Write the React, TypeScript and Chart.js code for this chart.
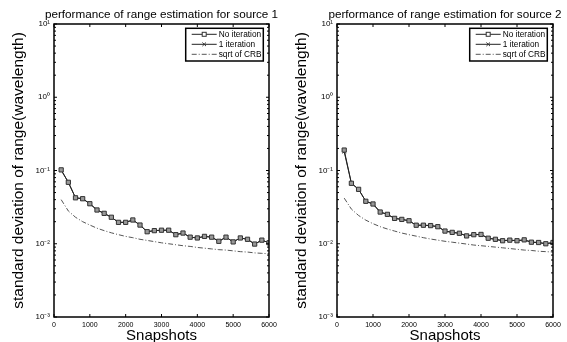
import React, { useEffect, useRef } from 'react';
import { Chart, registerables } from 'chart.js';

Chart.register(...registerables);

const FONT = '"Liberation Sans", Arial, Helvetica, sans-serif';

const snapshots = [200, 400, 600, 800, 1000, 1200, 1400, 1600, 1800, 2000, 2200, 2400, 2600, 2800, 3000, 3200, 3400, 3600, 3800, 4000, 4200, 4400, 4600, 4800, 5000, 5200, 5400, 5600, 5800, 6000];

const noIter1 = [0.102, 0.069, 0.0424, 0.0412, 0.0352, 0.0289, 0.026, 0.023, 0.0196, 0.0196, 0.0211, 0.018, 0.0146, 0.0151, 0.0153, 0.0153, 0.0133, 0.014, 0.0123, 0.012, 0.0126, 0.0123, 0.0108, 0.0123, 0.0106, 0.012, 0.0115, 0.0099, 0.0112, 0.0103];
const oneIter1 = [0.101, 0.069, 0.0424, 0.0412, 0.0352, 0.0289, 0.026, 0.023, 0.0196, 0.0196, 0.0211, 0.018, 0.0146, 0.0151, 0.0153, 0.0153, 0.0133, 0.014, 0.0123, 0.012, 0.0126, 0.0123, 0.0108, 0.0123, 0.0106, 0.012, 0.0115, 0.0099, 0.0112, 0.0103];
const crb1 = [0.040, 0.028, 0.023, 0.020, 0.018, 0.0163, 0.0151, 0.0141, 0.0133, 0.0126, 0.0121, 0.0115, 0.0111, 0.0107, 0.0103, 0.0100, 0.0097, 0.0094, 0.0092, 0.0089, 0.0087, 0.0085, 0.0083, 0.0082, 0.0080, 0.0078, 0.0077, 0.0075, 0.0074, 0.0073];

const noIter2 = [0.19, 0.0669, 0.0553, 0.038, 0.0349, 0.0271, 0.0252, 0.0222, 0.0215, 0.0206, 0.0179, 0.0179, 0.0177, 0.0171, 0.0149, 0.0143, 0.0139, 0.0128, 0.0133, 0.0134, 0.0119, 0.0115, 0.011, 0.0112, 0.011, 0.0113, 0.0105, 0.0104, 0.01, 0.0104];
const oneIter2 = [0.18, 0.0669, 0.0553, 0.038, 0.0349, 0.0271, 0.0252, 0.0222, 0.0215, 0.0206, 0.0179, 0.0179, 0.0177, 0.0171, 0.0149, 0.0143, 0.0139, 0.0128, 0.0133, 0.0134, 0.0119, 0.0115, 0.011, 0.0112, 0.011, 0.0113, 0.0105, 0.0104, 0.01, 0.0104];
const crb2 = [0.042, 0.0297, 0.0243, 0.021, 0.0188, 0.0171, 0.0159, 0.0149, 0.014, 0.0133, 0.0127, 0.0121, 0.0116, 0.0112, 0.0108, 0.0105, 0.0102, 0.0099, 0.0096, 0.0094, 0.0092, 0.0090, 0.0088, 0.0086, 0.0084, 0.0082, 0.0081, 0.0079, 0.0078, 0.0077];

const xTicks = [0, 1000, 2000, 3000, 4000, 5000, 6000];
const yTicks = [0.001, 0.01, 0.1, 1, 10];
const yTickLabels = ['10⁻³', '10⁻²', '10⁻¹', '10⁰', '10¹'];
const titles = ['performance of range estimation for source 1', 'performance of range estimation for source 2'];
const seriesLabels = ['No iteration', '1 iteration', 'sqrt of CRB'];
const xTitle = 'Snapshots';
const yTitle = 'standard deviation of range(wavelength)';

const plotTitle = {
  id: 'plotTitle',
  afterDraw(chart: any, _args: any, opts: any) {
    const { ctx, chartArea } = chart;
    ctx.save();
    ctx.fillStyle = '#000';
    ctx.font = `11.7px ${FONT}`;
    ctx.textAlign = 'center';
    ctx.textBaseline = 'alphabetic';
    ctx.fillText(opts.text, (chartArea.left + chartArea.right) / 2, 17.5);
    ctx.restore();
  },
};

const frameTicks = {
  id: 'frameTicks',
  afterDraw(chart: any) {
    const { ctx, chartArea } = chart;
    const { left, right, top, bottom } = chartArea;
    const xs = chart.scales.x;
    const ys = chart.scales.y;
    ctx.save();
    ctx.strokeStyle = '#000';
    ctx.lineWidth = 1;
    ctx.beginPath();
    xTicks.forEach((v) => {
      const px = xs.getPixelForValue(v);
      ctx.moveTo(px, bottom); ctx.lineTo(px, bottom - 3);
      ctx.moveTo(px, top); ctx.lineTo(px, top + 3);
    });
    yTicks.forEach((v) => {
      const py = ys.getPixelForValue(v);
      ctx.moveTo(left, py); ctx.lineTo(left + 3, py);
      ctx.moveTo(right, py); ctx.lineTo(right - 3, py);
    });
    for (let k = 0; k < yTicks.length - 1; k++) {
      for (let m = 2; m <= 9; m++) {
        const py = ys.getPixelForValue(yTicks[k] * m);
        ctx.moveTo(left, py); ctx.lineTo(left + 2, py);
        ctx.moveTo(right, py); ctx.lineTo(right - 2, py);
      }
    }
    ctx.stroke();
    ctx.lineWidth = 1.5;
    ctx.strokeRect(left, top, right - left, bottom - top);
    ctx.restore();
  },
};

const boxLegend = {
  id: 'boxLegend',
  afterDraw(chart: any) {
    const { ctx, chartArea } = chart;
    const w = 77.6, h = 32.7;
    const bx = chartArea.right - 83.3;
    const by = chartArea.top + 4.3;
    ctx.save();
    ctx.fillStyle = '#fff';
    ctx.fillRect(bx, by, w, h);
    ctx.lineWidth = 1.5;
    ctx.strokeStyle = '#000';
    ctx.strokeRect(bx, by, w, h);
    chart.data.datasets.forEach((ds: any, i: number) => {
      const y = by + 6 + i * 10;
      ctx.strokeStyle = ds.borderColor;
      ctx.lineWidth = 1;
      ctx.setLineDash(ds.borderDash || []);
      ctx.beginPath();
      ctx.moveTo(bx + 6, y);
      ctx.lineTo(bx + 31, y);
      ctx.stroke();
      ctx.setLineDash([]);
      const mx = bx + 18.5;
      if (ds.pointStyle === 'rect') {
        ctx.fillStyle = '#fff';
        ctx.fillRect(mx - 2, y - 2, 4, 4);
        ctx.strokeStyle = ds.pointBorderColor;
        ctx.strokeRect(mx - 2, y - 2, 4, 4);
      } else if (ds.pointStyle === 'crossRot') {
        ctx.strokeStyle = ds.pointBorderColor;
        ctx.beginPath();
        ctx.moveTo(mx - 1.8, y - 1.8); ctx.lineTo(mx + 1.8, y + 1.8);
        ctx.moveTo(mx + 1.8, y - 1.8); ctx.lineTo(mx - 1.8, y + 1.8);
        ctx.stroke();
      }
      ctx.fillStyle = '#000';
      ctx.font = `8.3px ${FONT}`;
      ctx.textBaseline = 'middle';
      ctx.textAlign = 'left';
      ctx.fillText(ds.label, bx + 33, y + 0.5);
    });
    ctx.restore();
  },
};

function makeConfig(title: string, a: number[], b: number[], c: number[]): any {
  const pts = (arr: number[]) => arr.map((v, i) => ({ x: snapshots[i], y: v }));
  return {
    type: 'line',
    data: {
      datasets: [
        {
          label: seriesLabels[0],
          data: pts(a),
          borderColor: '#222',
          borderWidth: 1,
          pointStyle: 'rect',
          pointRadius: 3,
          pointBackgroundColor: '#999',
          pointBorderColor: '#333',
          pointBorderWidth: 1,
        },
        {
          label: seriesLabels[1],
          data: pts(b),
          borderColor: '#222',
          borderWidth: 1,
          pointStyle: 'crossRot',
          pointRadius: 2.3,
          pointBorderColor: '#333',
          pointBorderWidth: 1,
        },
        {
          label: seriesLabels[2],
          data: pts(c),
          borderColor: '#555',
          borderWidth: 1,
          borderDash: [5, 2, 1, 2],
          pointRadius: 0,
        },
      ],
    },
    options: {
      animation: false,
      responsive: false,
      devicePixelRatio: 1,
      layout: { padding: { left: 0, right: 14, top: 24, bottom: 0 } },
      plugins: {
        legend: { display: false },
        tooltip: { enabled: false },
        title: { display: false },
        plotTitle: { text: title },
      },
      scales: {
        x: {
          type: 'linear',
          min: 0,
          max: 6000,
          afterBuildTicks: (s: any) => { s.ticks = xTicks.map((v) => ({ value: v })); },
          afterFit: (s: any) => { s.height = 25; },
          ticks: {
            color: '#000',
            font: { size: 7, family: FONT },
            padding: 4,
            maxRotation: 0,
            autoSkip: false,
            callback: (v: any) => String(v),
          },
          grid: { display: false, drawTicks: false },
          border: { display: false },
          title: {
            display: true,
            text: xTitle,
            color: '#000',
            font: { size: 15, family: FONT, lineHeight: 0.8 },
            padding: 0,
          },
        },
        y: {
          type: 'logarithmic',
          min: 0.001,
          max: 10,
          afterBuildTicks: (s: any) => { s.ticks = yTicks.map((v) => ({ value: v })); },
          afterFit: (s: any) => { s.width = 54; },
          ticks: {
            color: '#000',
            font: { size: 8, family: FONT },
            padding: 4,
            autoSkip: false,
            callback: (v: any) => {
              const i = yTicks.findIndex((t) => Math.abs(t - v) / t < 1e-6);
              return i >= 0 ? yTickLabels[i] : '';
            },
          },
          grid: { display: false, drawTicks: false },
          border: { display: false },
          title: {
            display: true,
            text: yTitle,
            color: '#000',
            font: { size: 15.5, family: FONT, lineHeight: 1.2 },
            padding: { top: 9.2, bottom: 0 },
          },
        },
      },
    },
    plugins: [plotTitle, frameTicks, boxLegend],
  };
}

export default function App() {
  const ref1 = useRef<HTMLCanvasElement>(null);
  const ref2 = useRef<HTMLCanvasElement>(null);
  useEffect(() => {
    const c1 = new Chart(ref1.current as HTMLCanvasElement, makeConfig(titles[0], noIter1, oneIter1, crb1));
    const c2 = new Chart(ref2.current as HTMLCanvasElement, makeConfig(titles[1], noIter2, oneIter2, crb2));
    return () => { c1.destroy(); c2.destroy(); };
  }, []);
  return (
    <div style={{ position: 'absolute', left: 0, top: 0, width: 567, height: 342, background: '#fff', overflow: 'hidden' }}>
      <canvas ref={ref1} width={283} height={342} style={{ position: 'absolute', left: 0, top: 0, width: 283, height: 342 }} />
      <canvas ref={ref2} width={284} height={342} style={{ position: 'absolute', left: 283, top: 0, width: 284, height: 342 }} />
    </div>
  );
}
